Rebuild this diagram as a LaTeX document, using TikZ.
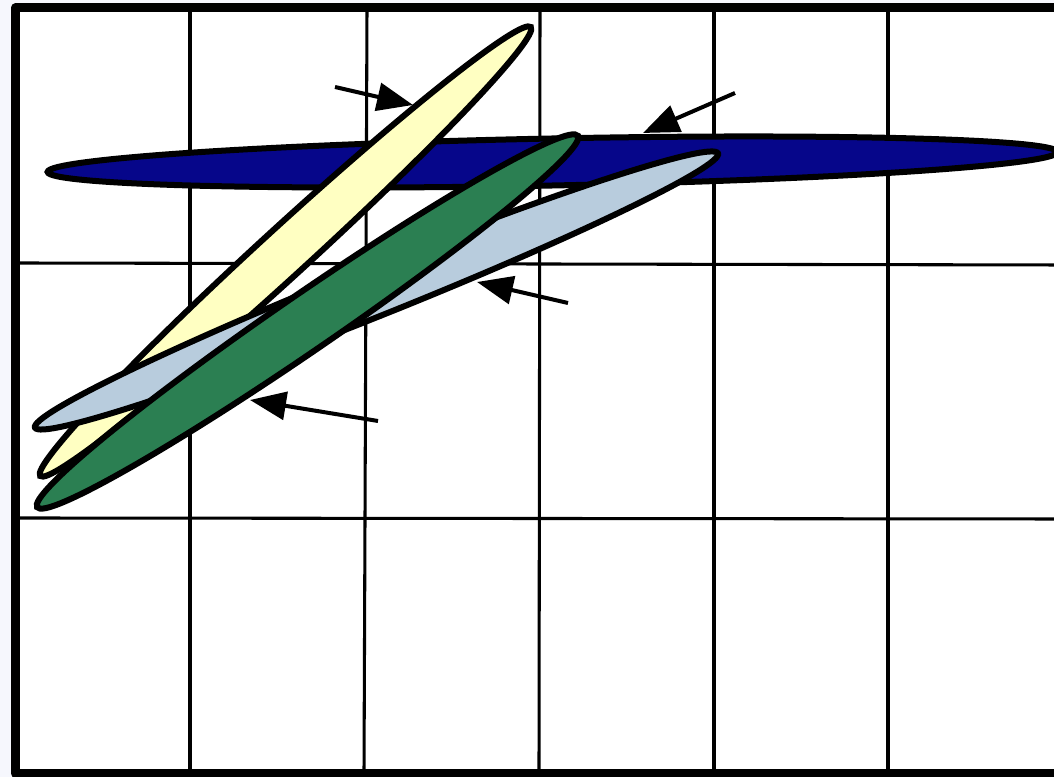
\documentclass[tikz,border=0pt]{standalone}
\usepackage{xcolor}
\usepackage{tikz}
\usetikzlibrary{arrows.meta}
\definecolor{bgtint}{HTML}{F6F7FD}
\definecolor{lobenavy}{HTML}{06068A}
\definecolor{lobeyellow}{HTML}{FFFFC2}
\definecolor{lobesteel}{HTML}{B8CCDD}
\definecolor{lobegreen}{HTML}{2B7F52}
\tikzset{
  framebox/.style={line width=6.75pt,line join=round},
  gridln/.style={line width=2.3pt},
  lobe/.style={draw=black,line width=4.5pt},
  navylobe/.style={lobe,fill=lobenavy},
  yellowlobe/.style={lobe,fill=lobeyellow},
  steellobe/.style={lobe,fill=lobesteel},
  greenlobe/.style={lobe,fill=lobegreen},
  ptredge/.style={-{Triangle[length=27pt,width=21pt]},line width=3pt,black},
}

\begin{document}
\begin{tikzpicture}[x=0.75pt,y=0.75pt]
    \useasboundingbox (0,0) rectangle (1054,777);
    \fill[bgtint] (0,0) rectangle (1054,777);
    \fill[white] (15.5,3.5) rectangle (1060,769);
    % grid
    \foreach \xt/\xb in {190/190,367/364,540/539,714/714,888/888}
      \draw[gridln] (\xt,769) -- (\xb,3.5);
    \draw[gridln] (15.5,514) -- (1060,512);
    \draw[gridln] (15.5,259) -- (1060,258);
    \draw[framebox] (1070,769) -- (15.5,769) -- (15.5,3.5) -- (1070,3.5);
    % lobes
    \draw[navylobe,shift={(552.5,615)},rotate=1.13] (0,0) ellipse [x radius=505,y radius=23.5];
    \draw[yellowlobe,shift={(285.5,525.5)},rotate=42.46] (0,0) ellipse [x radius=332.5,y radius=24];
    \draw[steellobe,shift={(376.5,486.5)},rotate=21.87] (0,0) ellipse [x radius=368,y radius=25];
    \draw[greenlobe,shift={(307.5,455.5)},rotate=34.49] (0,0) ellipse [x radius=328,y radius=28];
    % pointers
    \coordinate (yeltail) at (335,690);
    \coordinate (yeltip) at (413,672);
    \coordinate (navytail) at (735,684);
    \coordinate (navytip) at (643,644);
    \coordinate (steeltail) at (568,474);
    \coordinate (steeltip) at (477,495);
    \coordinate (greentail) at (378,356);
    \coordinate (greentip) at (250,377);
    \draw[ptredge] (yeltail) -- (yeltip);
    \draw[ptredge] (navytail) -- (navytip);
    \draw[ptredge] (steeltail) -- (steeltip);
    \draw[ptredge] (greentail) -- (greentip);
  \end{tikzpicture}
\end{document}
